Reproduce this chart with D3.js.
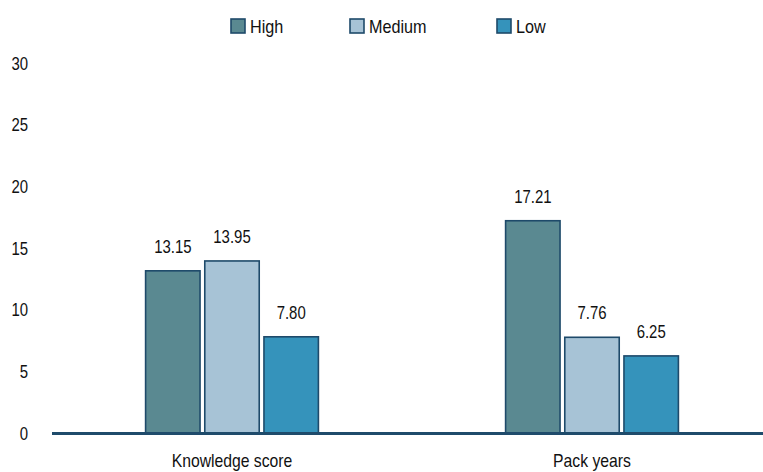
<!DOCTYPE html>
<html>
<head>
<meta charset="utf-8">
<script src="https://cdn.jsdelivr.net/npm/d3@7"></script>
<style>
  html, body { margin: 0; padding: 0; background: #ffffff; }
  svg { display: block; }
</style>
</head>
<body>
<svg id="chart" width="763" height="472"></svg>
<script>
// Chart data
const categories = ["Knowledge score", "Pack years"];
const seriesNames = ["High", "Medium", "Low"];
const highValues = [13.15, 17.21];
const mediumValues = [13.95, 7.76];
const lowValues = [7.80, 6.25];
const yTicks = [0, 5, 10, 15, 20, 25, 30];

const seriesValues = [highValues, mediumValues, lowValues];
const colors = ["#5a8991", "#a7c3d6", "#3593bb"];
const strokeColor = "#1e4a6a";
const font = "'Liberation Sans', Arial, sans-serif";
// condensed look: narrow the glyphs horizontally
const numScale = 0.83;
const wordScale = 0.9;

const svg = d3.select("#chart");

const x0 = d3.scaleBand()
  .domain(categories)
  .range([52, 772])
  .paddingInner(0.52)
  .paddingOuter(0.26);

const x1 = d3.scaleBand()
  .domain(seriesNames)
  .range([0, x0.bandwidth()])
  .paddingInner(0.08);

const y = d3.scaleLinear().domain([0, 30]).range([433, 63]);

function condensedText(sel, sx) {
  sel.attr("transform", function() {
    const t = d3.select(this);
    const px = +t.attr("data-x"), py = +t.attr("data-y");
    return `translate(${px},${py}) scale(${sx},1)`;
  });
}

// Y-axis tick labels (no axis line, no gridlines)
svg.append("g").selectAll("text")
  .data(yTicks)
  .join("text")
  .attr("data-x", 28)
  .attr("data-y", d => y(d) + 6.5)
  .attr("text-anchor", "end")
  .attr("font-family", font)
  .attr("font-size", 18)
  .attr("fill", "#111")
  .text(d => d)
  .call(condensedText, numScale);

// Bars
const groups = svg.selectAll("g.cat")
  .data(categories)
  .join("g")
  .attr("class", "cat")
  .attr("transform", d => `translate(${x0(d)},0)`);

groups.each(function(cat, ci) {
  const rows = seriesNames.map((s, si) => ({ s, si, v: seriesValues[si][ci] }));
  const g = d3.select(this);
  g.selectAll("rect")
    .data(rows)
    .join("rect")
    .attr("x", d => x1(d.s))
    .attr("y", d => y(d.v))
    .attr("width", x1.bandwidth())
    .attr("height", d => y(0) - y(d.v))
    .attr("fill", d => colors[d.si])
    .attr("stroke", strokeColor)
    .attr("stroke-width", 1.6);
  g.selectAll("text.val")
    .data(rows)
    .join("text")
    .attr("class", "val")
    .attr("data-x", d => x1(d.s) + x1.bandwidth() / 2)
    .attr("data-y", d => y(d.v) - 18)
    .attr("text-anchor", "middle")
    .attr("font-family", font)
    .attr("font-size", 18)
    .attr("fill", "#111")
    .text(d => d.v.toFixed(2))
    .call(condensedText, numScale);
});

// Baseline
svg.append("line")
  .attr("x1", 52).attr("x2", 772)
  .attr("y1", y(0) + 0.5).attr("y2", y(0) + 0.5)
  .attr("stroke", "#1f4b6b")
  .attr("stroke-width", 3);

// Category labels
svg.selectAll("text.catlabel")
  .data(categories)
  .join("text")
  .attr("class", "catlabel")
  .attr("data-x", d => x0(d) + x0.bandwidth() / 2)
  .attr("data-y", 467)
  .attr("text-anchor", "middle")
  .attr("font-family", font)
  .attr("font-size", 17.5)
  .attr("fill", "#111")
  .text(d => d)
  .call(condensedText, wordScale);

// Legend
const legendX = [231, 350, 497];
const legend = svg.selectAll("g.leg")
  .data(seriesNames)
  .join("g")
  .attr("class", "leg")
  .attr("transform", (d, i) => `translate(${legendX[i]},19)`);
legend.append("rect")
  .attr("width", 14).attr("height", 14)
  .attr("fill", (d, i) => colors[i])
  .attr("stroke", strokeColor)
  .attr("stroke-width", 1.6);
legend.append("text")
  .attr("data-x", 19).attr("data-y", 14)
  .attr("font-family", font)
  .attr("font-size", 18)
  .attr("fill", "#111")
  .text(d => d)
  .call(condensedText, wordScale);
</script>
</body>
</html>
